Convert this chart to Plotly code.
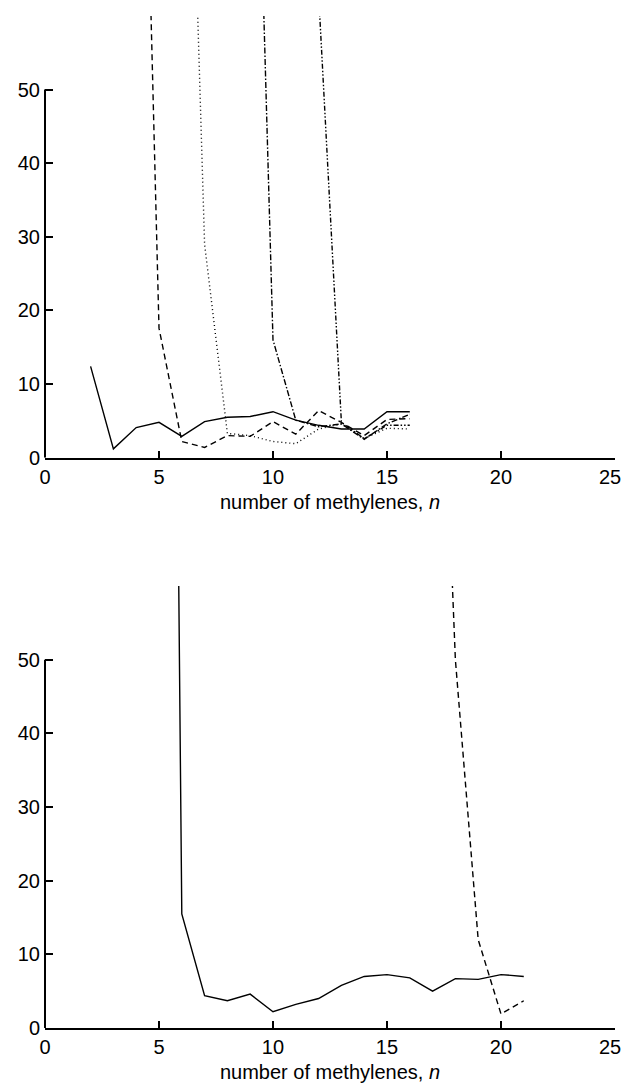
import plotly.graph_objects as go

# ---- data ----
# top panel
n_top_solid = list(range(2, 17))
top_solid = [12.4, 1.2, 4.1, 4.8, 2.9, 4.9, 5.5, 5.6, 6.25, 5.1, 4.4, 3.9, 3.9, 6.25, 6.25]
n_top_dash = list(range(4, 17))
top_dash = [139, 17.6, 2.2, 1.4, 3.0, 2.9, 4.9, 3.2, 6.4, 4.8, 3.0, 5.2, 5.3]
n_top_dot = list(range(6, 17))
top_dot = [132, 29, 3.3, 3.0, 2.2, 1.9, 3.9, 4.6, 2.6, 4.0, 3.9]
n_top_dashdot = list(range(9, 17))
top_dashdot = [126, 16, 5.1, 4.2, 4.6, 2.5, 4.6, 5.9]
n_top_dashdotdot = list(range(12, 17))
top_dashdotdot = [63, 4.8, 2.6, 4.4, 4.4]

# bottom panel
n_bot_solid = list(range(5, 22))
bot_solid = [350, 15.5, 4.4, 3.7, 4.6, 2.2, 3.2, 4.0, 5.8, 7.0, 7.25, 6.8, 5.0, 6.7, 6.6, 7.25, 7.0]
n_bot_dash = list(range(17, 22))
bot_dash = [127, 50, 12, 1.9, 3.7]

x_ticks = [0, 5, 10, 15, 20, 25]
x_tick_labels = ["0", "5", "10", "15", "20", ""]   # last label placed as annotation (edge)
last_x_label = "25"
y_ticks = [0, 10, 20, 30, 40, 50]
x_title = "number of methylenes, <i>n</i>"

FONT = "Liberation Sans, Arial, Helvetica, sans-serif"
W, H = 623, 1083
ML, MR, MT, MB = 45, 8, 16, 55
FS = 20

fig = go.Figure()

def add(x, y, dash, xa, ya):
    fig.add_trace(go.Scatter(x=x, y=y, mode="lines", xaxis=xa, yaxis=ya,
                             line=dict(color="black", width=1.4, dash=dash),
                             showlegend=False, hoverinfo="skip"))

add(n_top_solid, top_solid, "solid", "x", "y")
add(n_top_dash, top_dash, "6px,4px", "x", "y")
add(n_top_dot, top_dot, "1px,3px", "x", "y")
add(n_top_dashdot, top_dashdot, "6px,2px,1.5px,2px", "x", "y")
add(n_top_dashdotdot, top_dashdotdot, "5px,2px,1.5px,2px,1.5px,2px", "x", "y")
add(n_bot_solid, bot_solid, "solid", "x2", "y2")
add(n_bot_dash, bot_dash, "6px,4px", "x2", "y2")

plot_h = H - MT - MB
top_dom = [1 - 441.7 / plot_h, 1]
bot_dom = [0, 442.0 / plot_h]

xax = dict(range=[0, 25.001], tickvals=x_ticks, ticktext=x_tick_labels,
           ticks="inside", ticklen=7, tickwidth=2,
           tickcolor="black", showline=True, linecolor="black", linewidth=2,
           showgrid=False, zeroline=False,
           tickfont=dict(size=FS, color="black", family=FONT),
           title=dict(text=x_title, font=dict(size=FS, color="black", family=FONT), standoff=8),
           fixedrange=True, automargin=False)
yax = dict(range=[0, 60], tickvals=y_ticks, ticks="inside", ticklen=8, tickwidth=2,
           tickcolor="black", showline=False, showgrid=False, zeroline=False,
           tickfont=dict(size=FS, color="black", family=FONT), ticklabelstandoff=4,
           fixedrange=True, automargin=False)

fig.update_layout(
    width=W, height=H,
    margin=dict(l=ML, r=MR, t=MT, b=MB),
    paper_bgcolor="white", plot_bgcolor="white",
    font=dict(family=FONT, color="black"),
    xaxis=dict(**xax, anchor="y"),
    yaxis=dict(**yax, domain=top_dom, anchor="x"),
    xaxis2=dict(**xax, anchor="y2"),
    yaxis2=dict(**yax, domain=bot_dom, anchor="x2"),
)

# y-axis spines drawn only from 0 to 50
for xr, yr in (("x domain", "y"), ("x2 domain", "y2")):
    fig.add_shape(type="line", xref=xr, yref=yr, x0=0, x1=0, y0=0, y1=y_ticks[-1],
                  line=dict(color="black", width=2))

# last x tick label, nudged left so it stays inside the page
for xr, yr in (("x", "y"), ("x2", "y2")):
    fig.add_annotation(x=x_ticks[-1], y=0, xref=xr, yref=yr, text=last_x_label,
                       showarrow=False, xanchor="right", yanchor="middle",
                       xshift=7, yshift=-19, borderpad=0,
                       font=dict(size=FS, color="black", family=FONT))

fig.write_html("out.html", config={"displayModeBar": False},
               post_script="document.body.style.margin='0';document.body.style.padding='0';")
